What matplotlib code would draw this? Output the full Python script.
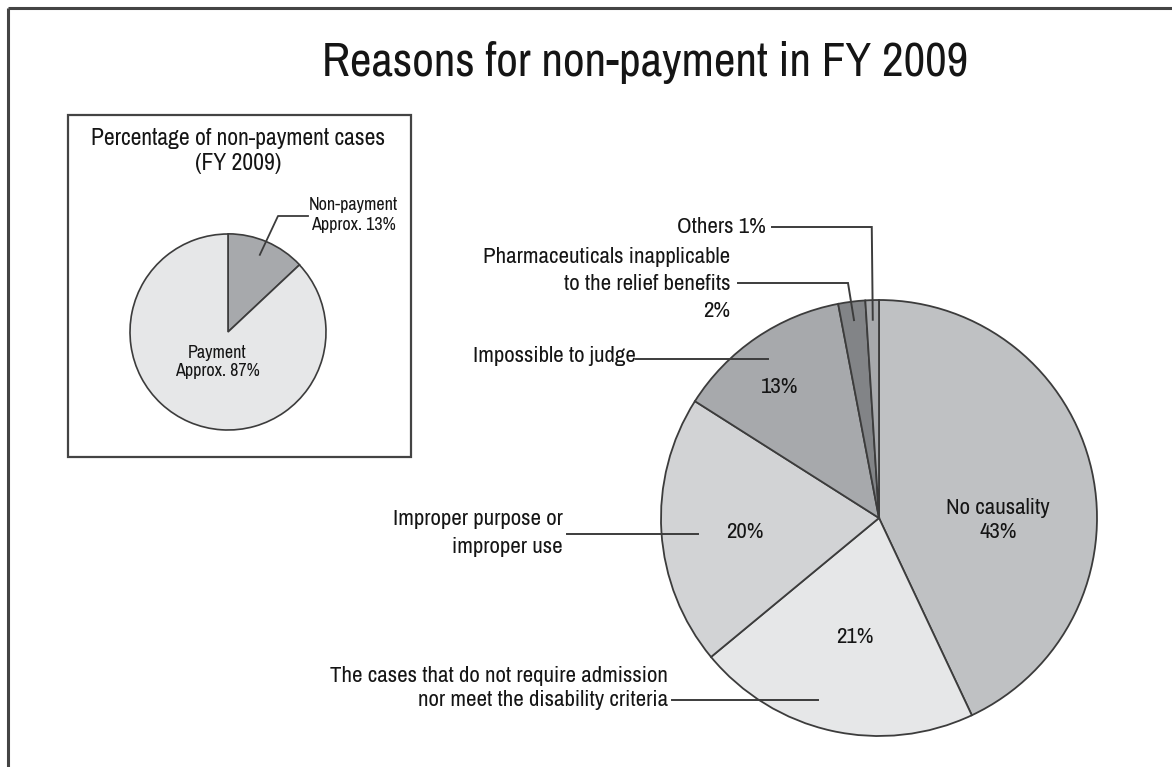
import numpy as np
import matplotlib
matplotlib.use('Agg')
import matplotlib.pyplot as plt
from matplotlib.patches import Rectangle
from matplotlib import font_manager

# Arial Narrow look-alike, first one that is installed
_have = {f.name for f in font_manager.fontManager.ttflist}
_narrow = [n for n in ['Liberation Sans Narrow', 'Arimo Narrow', 'Archivo Narrow',
                       'PT Sans Narrow', 'Roboto Condensed', 'Sofia Sans Semi Condensed']
           if n in _have]
plt.rcParams['font.family'] = _narrow[:1] + ['Liberation Sans', 'DejaVu Sans']

# data
main_labels = ['No causality',
               'The cases that do not require admission\nnor meet the disability criteria',
               'Improper purpose or\nimproper use',
               'Impossible to judge',
               'Pharmaceuticals inapplicable\nto the relief benefits',
               'Others']
main_pct = [43, 21, 20, 13, 2, 1]
main_colors = ['#bfc1c3', '#e6e7e8', '#d2d3d5', '#a7a9ac', '#828487', '#a7a9ac']

inset_labels = ['Non-payment', 'Payment']
inset_pct = [13, 87]
inset_colors = ['#a7a9ac', '#e6e7e8']

W, H = 1172, 767
EDGE = '#3c3c3c'
TXT = '#151515'


def Y(y):
    # image-style y (from top) -> axes y
    return H - y


fig = plt.figure(figsize=(W / 100, H / 100), dpi=100)
ax = fig.add_axes([0, 0, 1, 1])

# outer frame (top and left only)
ax.plot([8, W], [Y(8), Y(8)], color='#444444', lw=2.2, solid_capstyle='butt')
ax.plot([8, 8], [Y(8), 0], color='#444444', lw=2.2, solid_capstyle='butt')

ax.text(645, Y(63), 'Reasons for non-payment in FY 2009', fontsize=34,
        ha='center', va='center', color=TXT)

# ---- main pie ----
mc = (879, Y(518))
mr = 218
wedges, _ = ax.pie(main_pct, colors=main_colors, startangle=90, counterclock=False,
                   center=mc, radius=mr, frame=True,
                   wedgeprops=dict(edgecolor=EDGE, linewidth=1.3))


def wedge_point(w, frac, dth=0.0):
    th = np.deg2rad((w.theta1 + w.theta2) / 2 + dth)
    return mc[0] + frac * mr * np.cos(th), mc[1] + frac * mr * np.sin(th)


fs = 16.5
# labels inside the slices
ax.text(998, Y(520), f'{main_labels[0]}\n{main_pct[0]}%', fontsize=fs,
        ha='center', va='center', linespacing=1.28, color=TXT)
for i, (x, y) in zip([1, 2, 3], [(855, 637), (745, 532), (780, 387)]):
    ax.text(x, Y(y), f'{main_pct[i]}%', fontsize=fs, ha='center', va='center', color=TXT)

# outside labels with leader lines: (idx, text, text x, text y, line spacing,
#   leader start x, leader y (None = anchor y), anchor frac, dtheta)
outside = [
    (1, main_labels[1], 668, 688, 1.23, 672, None, 0.88, -6.0),
    (2, main_labels[2], 563, 533, 1.48, 567, None, 0.835, 1.4),
    (3, main_labels[3], 636, 356, 1.2, 636, None, 0.89, 0.6),
    (4, f'{main_labels[4]}\n{main_pct[4]}%', 730, 284, 1.45, 738, 283, 0.915, 0.0),
    (5, f'{main_labels[5]} {main_pct[5]}%', 766, 227, 1.2, 772, 227, 0.91, 0.0),
]
for idx, txt, tx, ty, lsp, lx, ly, frac, dth in outside:
    t = ax.text(tx, Y(ty), txt, fontsize=fs, ha='right', va='center',
                linespacing=lsp, multialignment='right', color=TXT)
    ax_, ay_ = wedge_point(wedges[idx], frac, dth)
    lead_y = ay_ if ly is None else Y(ly)
    bend_x = ax_ - (6 if idx == 4 else 1)
    ax.plot([lx, bend_x, ax_], [lead_y, lead_y, ay_], color=EDGE, lw=1.4,
            solid_joinstyle='miter')
    if idx == 4:
        # the "2%" is cut off at the bottom in the original
        t.set_clip_path(Rectangle((0, Y(318)), W, 400, transform=ax.transData))
        t.set_clip_on(True)

# ---- inset ----
ax.add_patch(Rectangle((68, Y(457)), 343, 342, fill=False, edgecolor='#444444', lw=1.6))
ax.text(238, Y(151), 'Percentage of non-payment cases\n(FY 2009)', fontsize=17,
        ha='center', va='center', linespacing=1.2, color=TXT)
ic = (228, Y(332))
ir = 98
iw, _ = ax.pie(inset_pct, colors=inset_colors, startangle=90, counterclock=False,
               center=ic, radius=ir, explode=[0.17, 0], frame=True,
               wedgeprops=dict(edgecolor=EDGE, linewidth=1.2))
ax.text(217, Y(362), f'{inset_labels[1]}\nApprox. {inset_pct[1]}%', fontsize=13,
        ha='center', va='center', linespacing=1.22, color=TXT)
ax.text(353, Y(215), f'{inset_labels[0]}\nApprox. {inset_pct[0]}%', fontsize=13,
        ha='center', va='center', linespacing=1.34, color=TXT)
cx, cy = iw[0].center
th = np.deg2rad((iw[0].theta1 + iw[0].theta2) / 2 + 1)
px, py = cx + 0.85 * ir * np.cos(th), cy + 0.85 * ir * np.sin(th)
ax.plot([px, 278, 308], [py, Y(216), Y(216)], color=EDGE, lw=1.3)

ax.set_xlim(0, W)
ax.set_ylim(0, H)
ax.set_aspect('auto')
ax.axis('off')

fig.savefig('out.png', dpi=100, facecolor='white')
